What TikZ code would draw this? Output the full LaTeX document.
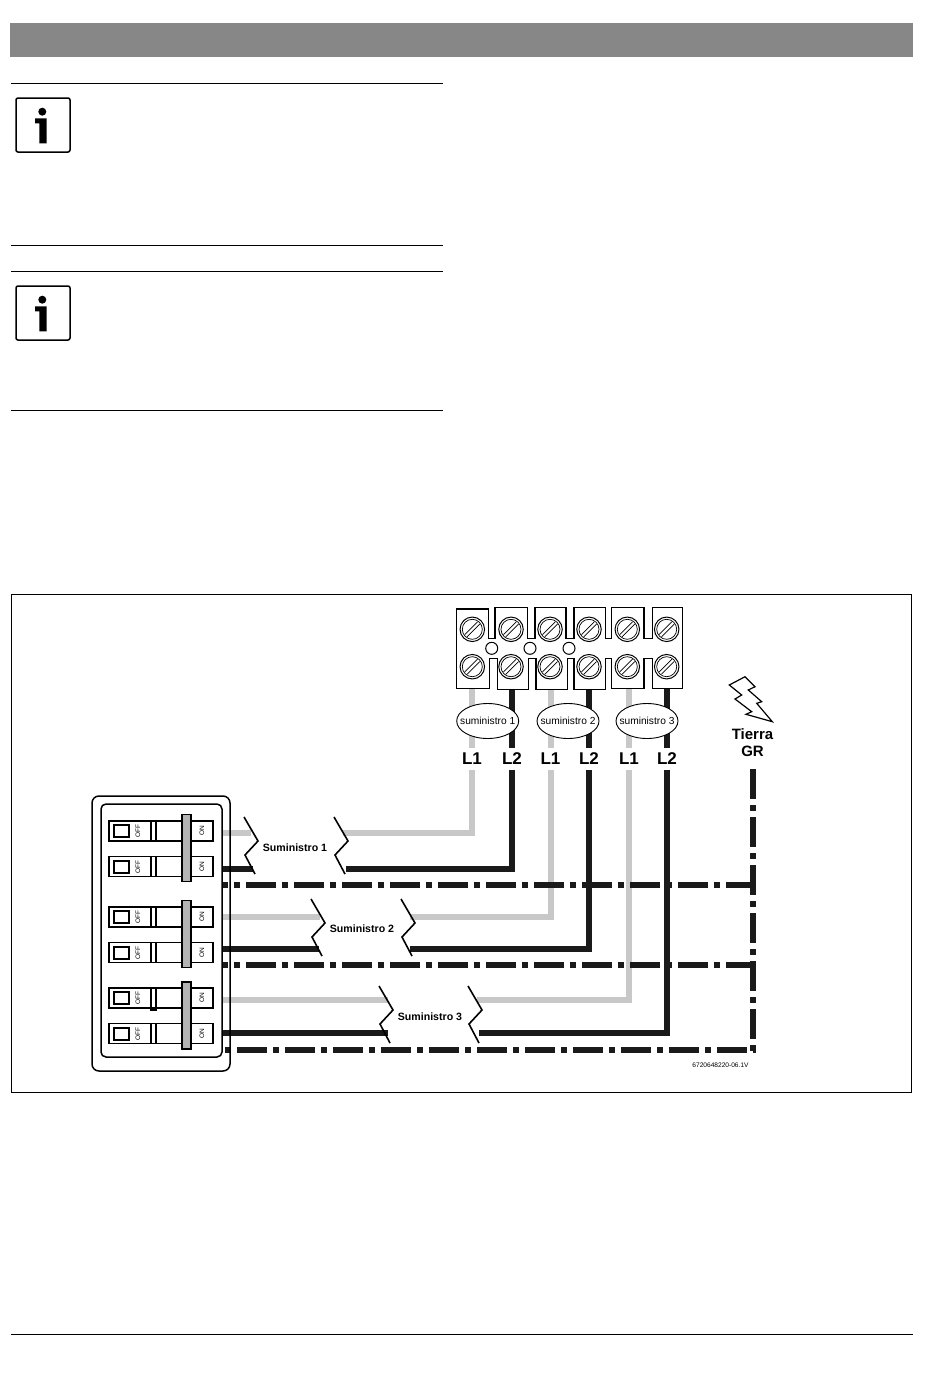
\documentclass[tikz,border=0pt]{standalone}
\usepackage{fontspec}
\setmainfont{Liberation Sans}
\usepackage{tikz}
\usetikzlibrary{
    shapes.geometric,
    positioning,
    calc
}
\definecolor{headergray}{RGB}{135, 135, 135}
\definecolor{wiregray}{RGB}{200, 200, 200}
\definecolor{handlegray}{RGB}{180, 180, 180}
\definecolor{wireblack}{RGB}{26, 26, 26}
\tikzstyle{graywire} = [
    draw=wiregray,
    line width=6
]
\tikzstyle{blackwire} = [
    draw=wireblack,
    line width=6
]
\tikzstyle{earthwire} = [
    draw=wireblack,
    line width=6,
    dash pattern=on 30pt off 6pt on 6pt off 6pt
]

\begin{document}
\begin{tikzpicture}[
    x=1pt, y=-1pt,
    infobox/.style={rectangle, draw, line width=1.5, rounded corners=2, minimum width=54, minimum height=54, inner sep=0},
    screw/.style={circle, draw, fill=white, line width=1, minimum size=24.5, inner sep=0, path picture={
        \draw[line width=0.7] (path picture bounding box.center) circle (10);
        \draw[line width=0.7] ($(path picture bounding box.center)+(-7.5,5.2)$) -- ($(path picture bounding box.center)+(5.2,-7.5)$);
        \draw[line width=0.7] ($(path picture bounding box.center)+(-5.2,7.5)$) -- ($(path picture bounding box.center)+(7.5,-5.2)$);
    }},
    hole/.style={circle, draw, fill=white, line width=1, minimum size=12, inner sep=0},
    supply/.style={ellipse, draw, fill=white, line width=0.9, minimum width=62, minimum height=35, inner sep=0, font=\fontsize{10.2}{11}\selectfont},
    phase/.style={minimum height=22, minimum width=22, inner sep=0, font=\bfseries\fontsize{17}{20}\selectfont},
    breaker/.style={rectangle, draw, line width=1.6, minimum width=104, minimum height=20, inner sep=0, path picture={
        \draw[line width=1.2] ($(path picture bounding box.center)+(-10,-12)$) -- ++(0,24);
        \draw[line width=1.2] ($(path picture bounding box.center)+(-5,-12)$) -- ++(0,24);
    }},
    window/.style={rectangle, draw, line width=1.8, minimum width=15, minimum height=12, inner sep=0},
    switchtext/.style={rotate=90, inner sep=0, font=\fontsize{6.5}{7}\selectfont},
    handle/.style={rectangle, draw, fill=handlegray, line width=1.6, minimum width=9, minimum height=67, inner sep=0},
    breaklabel/.style={inner sep=0, font=\bfseries\fontsize{10.6}{12}\selectfont},
    breakmark/.pic={\draw[line width=1.6] (0,0) -- (14,24) -- (1,38) -- (11,57);}
]
    \useasboundingbox (0,0) rectangle (950,1373);

    % Header
    \fill[headergray] (10,23) rectangle (913,57);
    \draw[line width=1] (11,83.5) -- (443,83.5);
    \draw[line width=1] (11,245.5) -- (443,245.5);
    \draw[line width=1] (11,271.5) -- (443,271.5);
    \draw[line width=1] (11,410.5) -- (443,410.5);
    \draw[line width=1] (11,1334.5) -- (913,1334.5);

    % Info icons
    \node[infobox] (info1) at (43,125) {};
    \fill (42.3,111.7) circle (4);
    \fill (35,118.3) -- (46.7,118.3) -- (46.7,143.3) -- (39.3,143.3) -- (39.3,123.3) -- (35,123.3) -- cycle;
    \node[infobox] (info2) at (43,313) {};
    \fill (42.3,299.7) circle (4);
    \fill (35,306.3) -- (46.7,306.3) -- (46.7,331.3) -- (39.3,331.3) -- (39.3,311.3) -- (35,311.3) -- cycle;

    % Figure frame
    \draw[line width=1] (11.5,594.5) rectangle (911.5,1092.5);

    % Labels above the wire runs
    \node[phase] (l1a) at (472,759) {L1};
    \node[phase] (l2a) at (512,759) {L2};
    \node[phase] (l1b) at (550.5,759) {L1};
    \node[phase] (l2b) at (589,759) {L2};
    \node[phase] (l1c) at (629,759) {L1};
    \node[phase] (l2c) at (667,759) {L2};

    % Wire ends
    \coordinate (t1a) at (472,686);
    \coordinate (t2a) at (512,686);
    \coordinate (t1b) at (550.5,686);
    \coordinate (t2b) at (589,686);
    \coordinate (t1c) at (629,686);
    \coordinate (t2c) at (667,686);
    \coordinate (g1) at (222,833);
    \coordinate (k1) at (222,869);
    \coordinate (g2) at (222,917);
    \coordinate (k2) at (222,949);
    \coordinate (g3) at (222,1000);
    \coordinate (k3) at (222,1033);
    \coordinate (g1in) at (251,833);
    \coordinate (k1in) at (253,869);
    \coordinate (g2in) at (320,917);
    \coordinate (k2in) at (319,949);
    \coordinate (g3in) at (388,1000);
    \coordinate (k3in) at (388,1033);
    \coordinate (g1out) at (343,833);
    \coordinate (k1out) at (346,869);
    \coordinate (g2out) at (410,917);
    \coordinate (k2out) at (410,949);
    \coordinate (g3out) at (477,1000);
    \coordinate (k3out) at (479,1033);

    % Wires up to the terminals
    \draw[graywire] (t1a) -- (l1a.north);
    \draw[blackwire] (t2a) -- (l2a.north);
    \draw[graywire] (t1b) -- (l1b.north);
    \draw[blackwire] (t2b) -- (l2b.north);
    \draw[graywire] (t1c) -- (l1c.north);
    \draw[blackwire] (t2c) -- (l2c.north);

    % Supply 1
    \draw[graywire] (g1) -- (g1in);
    \draw[blackwire] (k1) -- (k1in);
    \draw[graywire] (l1a.south) |- (g1out);
    \draw[blackwire] (l2a.south) |- (k1out);
    \pic at (244,817) {breakmark};
    \pic at (334,817) {breakmark};
    \node[breaklabel] (sup1) at (295,848) {Suministro 1};

    % Supply 2
    \draw[graywire] (g2) -- (g2in);
    \draw[blackwire] (k2) -- (k2in);
    \draw[graywire] (l1b.south) |- (g2out);
    \draw[blackwire] (l2b.south) |- (k2out);
    \pic at (311,899) {breakmark};
    \pic at (401,899) {breakmark};
    \node[breaklabel] (sup2) at (362,929) {Suministro 2};

    % Supply 3
    \draw[graywire] (g3) -- (g3in);
    \draw[blackwire] (k3) -- (k3in);
    \draw[graywire] (l1c.south) |- (g3out);
    \draw[blackwire] (l2c.south) |- (k3out);
    \pic at (379,986) {breakmark};
    \pic at (468,986) {breakmark};
    \node[breaklabel] (sup3) at (430,1017) {Suministro 3};

    % Earth
    \node[inner sep=0, font=\bfseries\fontsize{15}{17}\selectfont, align=center] (earth) at (752.5,743) {Tierra\\GR};
    \coordinate (e0) at (752.5,769);
    \coordinate (e1) at (222,885);
    \coordinate (e2) at (222,965);
    \coordinate (e3) at (225,1050);
    \coordinate (e1end) at (752.5,885);
    \coordinate (e2end) at (752.5,965);
    \coordinate (e3end) at (755.5,1050);
    \coordinate (e0end) at (752.5,1053);
    \draw[earthwire, dash phase=24pt] (e1) -- (e1end);
    \draw[earthwire, dash phase=24pt] (e2) -- (e2end);
    \draw[earthwire, dash phase=36pt] (e3) -- (e3end);
    \draw[earthwire] (e0) -- (e0end);
    \draw[line width=1.2, fill=white] (745,676.7) -- (729.3,685) -- (741.7,695) -- (735,699) -- (751.7,711.7) -- (746,714.3) -- (772.3,721.7) -- (756.7,703.3) -- (761.7,701.7) -- (748.3,690) -- (755,686.7) -- cycle;

    % Terminal block
    \draw[line width=1.5, fill=white] (456.7,609) -- (488.3,609) -- (488.3,638.3) -- (495,638.3) -- (495,607.7) -- (527.3,607.7) -- (527.3,638.3) -- (535,638.3) -- (535,607.7) -- (566,607.7) -- (566,638.3) -- (574,638.3) -- (574,607.7) -- (605.7,607.7) -- (605.7,638.3) -- (611.7,638.3) -- (611.7,607.7) -- (644,607.7) -- (644,638.3) -- (652.3,638.3) -- (652.3,607.7) -- (682.7,607.7)
        -- (682.7,688.3) -- (652.3,688.3) -- (652.3,658.3) -- (644,658.3) -- (644,688.3) -- (611.7,688.3) -- (611.7,658.3) -- (605.7,658.3) -- (605.7,689.3) -- (574,689.3) -- (574,658.3) -- (567.3,658.3) -- (567.3,689.3) -- (536,689.3) -- (536,658.3) -- (528.3,658.3) -- (528.3,689.3) -- (497.3,689.3) -- (497.3,658.3) -- (489.3,658.3) -- (489.3,688.3) -- (456.7,688.3) -- cycle;
    \node[screw] (s1) at (472.3,629.3) {};
    \node[screw] (s2) at (511,629.3) {};
    \node[screw] (s3) at (550,629.3) {};
    \node[screw] (s4) at (589,629.3) {};
    \node[screw] (s5) at (627.3,629.3) {};
    \node[screw] (s6) at (666.7,629.3) {};
    \node[screw] (s7) at (472.3,666.7) {};
    \node[screw] (s8) at (511,666.7) {};
    \node[screw] (s9) at (550,666.7) {};
    \node[screw] (s10) at (589,666.7) {};
    \node[screw] (s11) at (627.3,666.7) {};
    \node[screw] (s12) at (666.7,666.7) {};
    \node[hole] (h1) at (491.7,648.3) {};
    \node[hole] (h2) at (530,648.3) {};
    \node[hole] (h3) at (569,648.3) {};

    % Supply ellipses
    \node[supply] (ell1) at (487.7,721) {\makebox[0pt]{suministro 1}};
    \node[supply] (ell2) at (568,721) {\makebox[0pt]{suministro 2}};
    \node[supply] (ell3) at (647,721) {\makebox[0pt]{suministro 3}};

    % Breaker panel
    \node[rectangle, draw, line width=1.5, rounded corners=7, minimum width=138, minimum height=275, inner sep=0] (panel) at (161,933.5) {};
    \node[rectangle, draw, line width=1.5, rounded corners=5, minimum width=121, minimum height=253, inner sep=0] (inner) at (161.5,930.5) {};

    % Breaker 1
    \node[breaker] (b1) at (161,831) {};
    \node[window, right=5pt of b1.west] (w1) {};
    \node[switchtext] (off1) at ($(b1)+(-23,0)$) {OFF};
    \node[switchtext] (on1) at ($(b1)+(41,0)$) {ON};

    % Breaker 2
    \node[breaker, below=14pt of b1] (b2) {};
    \node[window, right=5pt of b2.west] (w2) {};
    \node[switchtext] (off2) at ($(b2)+(-23,0)$) {OFF};
    \node[switchtext] (on2) at ($(b2)+(41,0)$) {ON};

    % Breaker 3
    \node[breaker] (b3) at (161,917) {};
    \node[window, right=5pt of b3.west] (w3) {};
    \node[switchtext] (off3) at ($(b3)+(-23,0)$) {OFF};
    \node[switchtext] (on3) at ($(b3)+(41,0)$) {ON};

    % Breaker 4
    \node[breaker, below=14pt of b3] (b4) {};
    \node[window, right=5pt of b4.west] (w4) {};
    \node[switchtext] (off4) at ($(b4)+(-23,0)$) {OFF};
    \node[switchtext] (on4) at ($(b4)+(41,0)$) {ON};

    % Breaker 5
    \node[breaker] (b5) at (161,998) {};
    \node[window, right=5pt of b5.west] (w5) {};
    \node[switchtext] (off5) at ($(b5)+(-23,0)$) {OFF};
    \node[switchtext] (on5) at ($(b5)+(41,0)$) {ON};
    \draw[line width=1.2] (151,1008) -- (151,1010) -- (156,1010) -- (156,1008);

    % Breaker 6
    \node[breaker, below=14pt of b5] (b6) {};
    \node[window, right=5pt of b6.west] (w6) {};
    \node[switchtext] (off6) at ($(b6)+(-23,0)$) {OFF};
    \node[switchtext] (on6) at ($(b6)+(41,0)$) {ON};

    % Handles
    \node[handle] (hd1) at (186.5,848) {};
    \node[handle] (hd2) at (186.5,934) {};
    \node[handle] (hd3) at (186.5,1015.5) {};

    % Drawing number
    \node[inner sep=0, font=\fontsize{6.6}{7}\selectfont] (code) at (720.5,1065) {6720648220-06.1V};
\end{tikzpicture}
\end{document}
